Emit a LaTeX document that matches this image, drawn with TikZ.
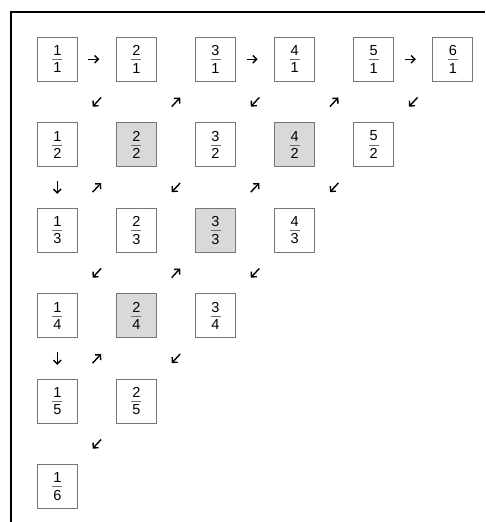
\documentclass[tikz,border=0pt]{standalone}
\usepackage{fontspec}
\setmainfont{Liberation Sans}
\usetikzlibrary{arrows.meta}

\definecolor{cellgray}{RGB}{217,217,217}
\definecolor{celledge}{RGB}{118,118,118}
\definecolor{barline}{RGB}{110,110,110}

\newcommand{\frc}[2]{\vbox{\offinterlineskip\halign{\hfil##\hfil\cr #1\cr\noalign{\kern3.5pt}\textcolor{barline}{\rule{10pt}{0.6pt}}\cr\noalign{\kern3.3pt}#2\cr}}}

\tikzset{
  cell/.style={draw=celledge, line width=0.8pt, minimum width=40pt, minimum height=44pt,
    inner sep=0pt, font=\fontsize{14.5pt}{17pt}\selectfont},
  plaincell/.style={fill=white},
  shadedcell/.style={fill=cellgray},
  flow/.style={line width=1.4pt, -{Straight Barb[length=3.8pt,width=7.6pt]}},
  acrossarrow/.style={flow, shorten <=31pt, shorten >=37pt},
  downarrow/.style={flow, shorten <=36.5pt, shorten >=36.5pt},
  diagarrow/.style={flow, shorten <=52pt, shorten >=52pt}
}

\begin{document}
\begin{tikzpicture}[x=1pt, y=-1pt]
  \useasboundingbox (0,0) rectangle (485,522);
  \def\colstep{79.1}
  \def\rowstep{85.5}

  % frame
  \draw[line width=1.9pt] (11,522) -- (11,12) -- (485,12);

  % fractions c/r, shaded when not reduced
  \foreach \r in {1,...,6} {
    \pgfmathtruncatemacro\last{7-\r}
    \foreach \c in {1,...,\last} {
      \pgfmathtruncatemacro\g{gcd(\c,\r)}
      \ifnum\g>1 \def\look{shadedcell}\else\def\look{plaincell}\fi
      \node[cell, \look] (n\c\r) at ({57.3+(\c-1)*\colstep},{59.3+(\r-1)*\rowstep}) {\frc{\c}{\r}};
    }
  }

  % zigzag
  \foreach \a/\b/\k in {11/21/acrossarrow, 21/12/diagarrow, 12/13/downarrow, 13/22/diagarrow,
      22/31/diagarrow, 31/41/acrossarrow, 41/32/diagarrow, 32/23/diagarrow, 23/14/diagarrow,
      14/15/downarrow, 15/24/diagarrow, 24/33/diagarrow, 33/42/diagarrow, 42/51/diagarrow,
      51/61/acrossarrow, 61/52/diagarrow, 52/43/diagarrow, 43/34/diagarrow, 34/25/diagarrow,
      25/16/diagarrow}
    \draw[\k] (n\a.center) -- (n\b.center);
\end{tikzpicture}
\end{document}
